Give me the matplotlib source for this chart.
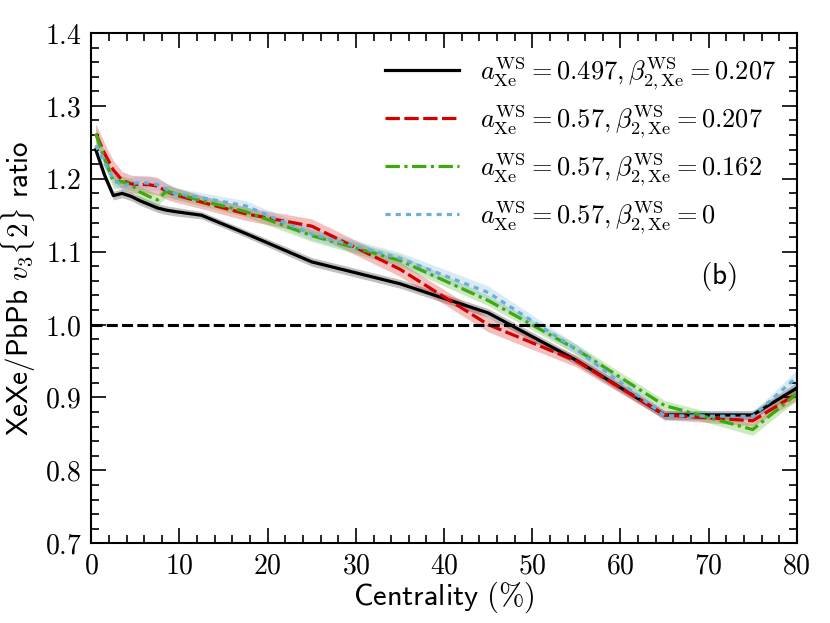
import numpy as np
import matplotlib.pyplot as plt
from matplotlib.ticker import MultipleLocator

plt.rcParams['mathtext.fontset'] = 'cm'
plt.rcParams['font.family'] = 'DejaVu Serif'

# centrality bin centres (%)
cent = [0.5, 1.5, 2.5, 3.5, 4.5, 5.5, 6.5, 7.5, 8.5, 9.5, 12.5, 17.5, 25, 35, 45, 55, 65, 75, 80]

# XeXe/PbPb v3{2} ratio for each nuclear-shape setting
r_black = [1.240, 1.205, 1.177, 1.180, 1.176, 1.170, 1.165, 1.160, 1.157, 1.155, 1.150, 1.125,
           1.086, 1.056, 1.016, 0.951, 0.876, 0.876, 0.913]
e_black = [0.006, 0.006, 0.006, 0.006, 0.006, 0.006, 0.006, 0.006, 0.006, 0.006, 0.005, 0.005,
           0.006, 0.006, 0.006, 0.006, 0.006, 0.006, 0.008]

r_red = [1.262, 1.235, 1.212, 1.198, 1.193, 1.192, 1.192, 1.190, 1.183, 1.178, 1.168, 1.152,
         1.135, 1.076, 1.000, 0.950, 0.876, 0.868, 0.905]
e_red = [0.014, 0.014, 0.013, 0.012, 0.012, 0.012, 0.012, 0.012, 0.011, 0.010, 0.009, 0.009,
         0.010, 0.010, 0.010, 0.008, 0.006, 0.007, 0.009]

r_green = [1.262, 1.228, 1.196, 1.196, 1.192, 1.182, 1.176, 1.171, 1.183, 1.180, 1.170, 1.155,
           1.122, 1.088, 1.033, 0.966, 0.889, 0.856, 0.905]
e_green = [0.010, 0.010, 0.009, 0.008, 0.008, 0.008, 0.008, 0.008, 0.008, 0.008, 0.007, 0.007,
           0.008, 0.008, 0.007, 0.007, 0.007, 0.008, 0.009]

r_blue = [1.246, 1.222, 1.200, 1.190, 1.193, 1.195, 1.194, 1.192, 1.186, 1.180, 1.174, 1.163,
          1.124, 1.091, 1.044, 0.966, 0.875, 0.874, 0.928]
e_blue = [0.008, 0.008, 0.008, 0.008, 0.009, 0.009, 0.009, 0.008, 0.008, 0.008, 0.007, 0.007,
          0.008, 0.008, 0.009, 0.007, 0.007, 0.006, 0.010]

labels = [r'$a_{\rm Xe}^{\rm WS}=0.497, \beta_{2,{\rm Xe}}^{\rm WS}=0.207$',
          r'$a_{\rm Xe}^{\rm WS}=0.57, \beta_{2,{\rm Xe}}^{\rm WS}=0.207$',
          r'$a_{\rm Xe}^{\rm WS}=0.57, \beta_{2,{\rm Xe}}^{\rm WS}=0.162$',
          r'$a_{\rm Xe}^{\rm WS}=0.57, \beta_{2,{\rm Xe}}^{\rm WS}=0$']

fig = plt.figure(figsize=(8.3, 6.23), dpi=100)
ax = fig.add_axes([0.110, 0.128, 0.850, 0.819])

x = np.array(cent)
series = [(r_black, e_black, 'k', '-'),
          (r_red, e_red, '#d40000', (0, (4.5, 1.4))),
          (r_green, e_green, '#3aaa0c', (0, (4.5, 1.4, 1.0, 1.4))),
          (r_blue, e_blue, '#6baed6', (0, (1.6, 1.6)))]

for (y, e, c, ls), lab in zip(series, labels):
    y = np.array(y); e = np.array(e)
    ax.fill_between(x, y - e, y + e, color=c, alpha=0.25, lw=0)
    ax.plot(x, y, color=c, lw=2.3, linestyle=ls, label=lab)

ax.axhline(1.0, color='k', lw=2.2, linestyle=(0, (3.6, 1.4)))

ax.set_xlim(0, 80)
ax.set_ylim(0.7, 1.4)
ax.xaxis.set_major_locator(MultipleLocator(10))
ax.xaxis.set_minor_locator(MultipleLocator(2))
ax.yaxis.set_major_locator(MultipleLocator(0.1))
ax.yaxis.set_minor_locator(MultipleLocator(0.02))
ax.xaxis.set_major_formatter(plt.FuncFormatter(lambda v, p: r'$%d$' % round(v)))
ax.yaxis.set_major_formatter(plt.FuncFormatter(lambda v, p: r'$%.1f$' % v))
ax.tick_params(which='both', direction='in', top=True, right=True, labelsize=20, width=1.2)
ax.tick_params(which='major', length=11, pad=7)
ax.tick_params(which='minor', length=5.5)
for s in ax.spines.values():
    s.set_linewidth(1.5)

ax.set_xlabel(r'$\mathsf{Centrality\ (\%)}$', fontsize=22, labelpad=0)
ax.set_ylabel(r'$\mathsf{XeXe/PbPb}\ v_3\{2\}\ \mathsf{ratio}$', fontsize=21, labelpad=5)
ax.text(69, 1.066, r'$\mathsf{(b)}$', fontsize=21, va='center')

ax.legend(loc='upper right', frameon=False, fontsize=19, handlelength=2.8,
          handletextpad=0.8, labelspacing=0.42, borderaxespad=0.4)

fig.savefig('out.png', dpi=100)
